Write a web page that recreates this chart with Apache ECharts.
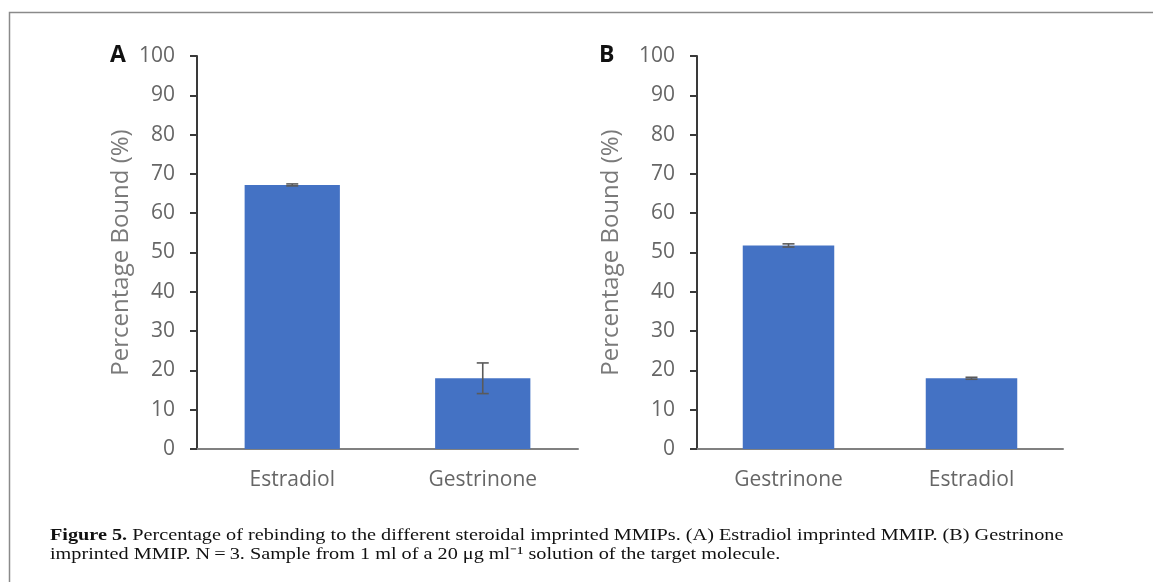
<!DOCTYPE html>
<html>
<head>
<meta charset="utf-8">
<script src="https://cdn.jsdelivr.net/npm/echarts@6/dist/echarts.min.js"></script>
<style>
html,body{margin:0;padding:0;background:#fff;}
#chart{width:1153px;height:582px;}
</style>
</head>
<body>
<div id="chart"></div>
<script>
// ---- data ----
const categoriesA = ['Estradiol', 'Gestrinone'];
const valuesA = [67.2, 18.0];
const errorsA = [0.25, 3.9];
const categoriesB = ['Gestrinone', 'Estradiol'];
const valuesB = [51.8, 18.0];
const errorsB = [0.4, 0.25];
const yTicks = [0, 10, 20, 30, 40, 50, 60, 70, 80, 90, 100];
const yAxisName = 'Percentage Bound (%)';
const panelLabels = ['A', 'B'];
const captionBold = 'Figure 5.';
const captionLine1 = ' Percentage of rebinding to the different steroidal imprinted MMIPs. (A) Estradiol imprinted MMIP. (B) Gestrinone';
const captionLine2 = 'imprinted MMIP. N\u2009=\u20093. Sample from 1 ml of a 20 \u03bcg ml\u207b\u00b9 solution of the target molecule.';

const FONT = 'Open Sans';
const BAR = '#4472C4';

function yAxis(gi, gap) {
  return {
    type: 'value', gridIndex: gi, min: yTicks[0], max: yTicks[yTicks.length - 1], interval: yTicks[1] - yTicks[0],
    name: yAxisName, nameLocation: 'middle', nameGap: gap, nameRotate: 90,
    nameTextStyle: { color: '#7a7a7a', fontSize: 24, fontFamily: FONT },
    axisLine: { show: true, lineStyle: { color: '#3a3a3a', width: 2 } },
    axisTick: { show: true, length: 7, lineStyle: { color: '#3a3a3a', width: 2 } },
    axisLabel: { color: '#666', fontSize: 21, fontFamily: FONT, margin: 22 },
    splitLine: { show: false }
  };
}
function xAxis(gi, cats) {
  return {
    type: 'category', gridIndex: gi, data: cats,
    axisLine: { show: true, lineStyle: { color: '#808080', width: 2 } },
    axisTick: { show: false },
    axisLabel: { color: '#666', fontSize: 21, fontFamily: FONT, margin: 21 }
  };
}
function barSeries(i, vals) {
  return { type: 'bar', xAxisIndex: i, yAxisIndex: i, data: vals, barWidth: '50%',
    itemStyle: { color: BAR }, silent: true };
}
function errSeries(i, vals, errs) {
  return {
    type: 'custom', xAxisIndex: i, yAxisIndex: i, z: 10, silent: true,
    data: vals.map((v, k) => [k, v, errs[k]]),
    encode: { x: 0, y: 1 },
    renderItem: function (params, api) {
      const x = api.value(0), v = api.value(1), e = api.value(2);
      const hi = api.coord([x, v + e]);
      const lo = api.coord([x, v - e]);
      const w = 6;
      const st = { stroke: '#5a5a5a', lineWidth: 1.6 };
      return { type: 'group', children: [
        { type: 'line', shape: { x1: hi[0], y1: hi[1], x2: lo[0], y2: lo[1] }, style: st },
        { type: 'line', shape: { x1: hi[0] - w, y1: hi[1], x2: hi[0] + w, y2: hi[1] }, style: st },
        { type: 'line', shape: { x1: lo[0] - w, y1: lo[1], x2: lo[0] + w, y2: lo[1] }, style: st }
      ]};
    }
  };
}

const capScale = 1.19;
const chart = echarts.init(document.getElementById('chart'), null, { renderer: 'canvas' });
chart.setOption({
  backgroundColor: '#fff',
  animation: false,
  grid: [
    { left: 197, top: 56, width: 381, height: 393 },
    { left: 697, top: 56, width: 366, height: 393 }
  ],
  xAxis: [xAxis(0, categoriesA), xAxis(1, categoriesB)],
  yAxis: [yAxis(0, 64), yAxis(1, 74)],
  series: [
    barSeries(0, valuesA), errSeries(0, valuesA, errorsA),
    barSeries(1, valuesB), errSeries(1, valuesB, errorsB)
  ],
  graphic: [
    { type: 'polyline', shape: { points: [[9.5, 582], [9.5, 12.5], [1153, 12.5]] },
      style: { stroke: '#8a8a8a', lineWidth: 1.5, fill: null }, silent: true },
    { type: 'text', x: 110, y: 55, style: { text: panelLabels[0], fontSize: 23, fontWeight: 'bold', fontFamily: FONT, fill: '#111', verticalAlign: 'middle' } },
    { type: 'text', x: 599, y: 55, style: { text: panelLabels[1], fontSize: 23, fontWeight: 'bold', fontFamily: FONT, fill: '#111', verticalAlign: 'middle' } },
    { type: 'text', x: 50, y: 536, scaleX: capScale, style: {
        x: 0, y: 0, verticalAlign: 'middle',
        text: '{b|' + captionBold + '}{n|' + captionLine1 + '}',
        rich: {
          b: { fontFamily: 'Liberation Serif', fontSize: 17, fontWeight: 'bold', fill: '#111' },
          n: { fontFamily: 'Liberation Serif', fontSize: 17, fill: '#111' }
        } } },
    { type: 'text', x: 50, y: 555, scaleX: capScale, style: { x: 0, y: 0, verticalAlign: 'middle', text: captionLine2, fontFamily: 'Liberation Serif', fontSize: 17, fill: '#111' } }
  ]
});
</script>
</body>
</html>
